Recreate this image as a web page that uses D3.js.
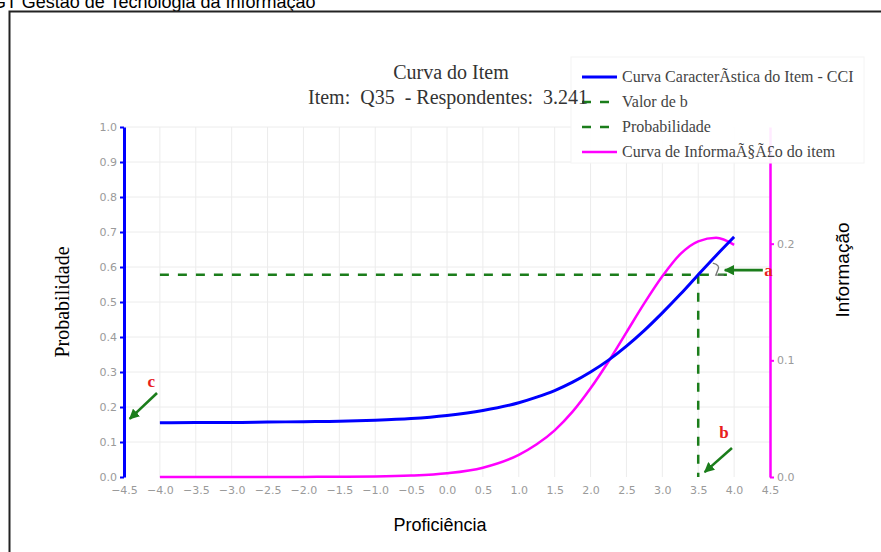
<!DOCTYPE html>
<html>
<head>
<meta charset="utf-8">
<script src="https://cdn.jsdelivr.net/npm/d3@7"></script>
<style>
  body { margin: 0; background: #fff; }
  svg { display: block; }
</style>
</head>
<body>
<svg id="chart"></svg>
<script>
// item curve values
const theta = [-4, -3.5, -3, -2.5, -2, -1.5, -1, -0.5, 0, 0.5, 1, 1.25, 1.5, 1.75, 2, 2.25, 2.5, 2.75, 3, 3.25, 3.5, 3.75, 4];
const cciValues = [0.155, 0.156, 0.156, 0.157, 0.158, 0.159, 0.162, 0.167, 0.176, 0.190, 0.212, 0.228, 0.247, 0.271, 0.300, 0.334, 0.374, 0.419, 0.469, 0.522, 0.578, 0.633, 0.686];
const infoValues = [0, 0, 0, 0, 0.0001, 0.0002, 0.0004, 0.0012, 0.0032, 0.008, 0.019, 0.028, 0.040, 0.056, 0.076, 0.099, 0.124, 0.149, 0.172, 0.191, 0.202, 0.205, 0.199];

const bValue = 3.5;
const probAtB = 0.578;
const probRange = [-4, 4];

const xTicks = d3.range(-4.5, 4.51, 0.5);
const yLeftTicks = d3.range(0, 1.01, 0.1);
const yRightTicks = [0, 0.1, 0.2];

const legendLabels = ["Curva CaracterÃ\u00adstica do Item - CCI", "Valor de b", "Probabilidade", "Curva de InformaÃ§Ã£o do item"];

// annotation arrows (data coords): tip, tail, label
const annotations = [
    {label: "a", tip: [3.87, 0.591], tail: [4.40, 0.591], text: [4.48, 0.591]},
    {label: "b", tip: [3.59, 0.014], tail: [3.97, 0.083], text: [3.86, 0.128]},
    {label: "c", tip: [-4.42, 0.166], tail: [-4.04, 0.24], text: [-4.12, 0.272]}
];

const W = 881, H = 552;
const plot = {left: 124, right: 770, top: 127, bottom: 477};

const svg = d3.select("#chart").attr("width", W).attr("height", H);

const x = d3.scaleLinear().domain([-4.5, 4.5]).range([plot.left, plot.right]);
const yL = d3.scaleLinear().domain([0, 1]).range([plot.bottom, plot.top]);
const yR = d3.scaleLinear().domain([0, 0.3]).range([plot.bottom, plot.top]);

const blue = "#0000ff", magenta = "#ff00ff", green = "#1b7d1b", red = "#e8201c";
const tickFont = "'DejaVu Sans', Verdana, sans-serif";
const serif = "'Liberation Serif', 'Times New Roman', serif";
const sans = "'Liberation Sans', Arial, sans-serif";

// page header (cut off) and frame
svg.append("text")
    .attr("x", -8).attr("y", 8)
    .style("font-family", sans).style("font-size", "18px")
    .text("GT Gestão de Tecnologia da Informação");

svg.append("path")
    .attr("d", `M9.5,${H} V11.5 H${W}`)
    .attr("fill", "none").attr("stroke", "#222").attr("stroke-width", 2);

// grid
svg.append("g").selectAll("line")
    .data(xTicks.filter(t => t > -4.4 && t < 4.4))
    .join("line")
    .attr("x1", d => x(d)).attr("x2", d => x(d))
    .attr("y1", plot.top).attr("y2", plot.bottom)
    .attr("stroke", "#ececec").attr("stroke-width", 1);

svg.append("g").selectAll("line")
    .data(yLeftTicks.filter(t => t > 0.05))
    .join("line")
    .attr("x1", plot.left).attr("x2", plot.right)
    .attr("y1", d => yL(d)).attr("y2", d => yL(d))
    .attr("stroke", "#ececec").attr("stroke-width", 1);

// axes
const fmt = d3.format(".1f");

const gx = svg.append("g")
    .attr("transform", `translate(0,${plot.bottom})`)
    .call(d3.axisBottom(x).tickValues(xTicks).tickFormat(fmt).tickSize(0).tickPadding(9));
gx.select(".domain").remove();

const gyL = svg.append("g")
    .attr("transform", `translate(${plot.left},0)`)
    .call(d3.axisLeft(yL).tickValues(yLeftTicks).tickFormat(fmt).tickSize(4).tickSizeOuter(0).tickPadding(3));
gyL.select(".domain").attr("stroke", blue).attr("stroke-width", 3);
gyL.selectAll(".tick line").attr("stroke", blue).attr("stroke-width", 2);

const gyR = svg.append("g")
    .attr("transform", `translate(${plot.right},0)`)
    .call(d3.axisRight(yR).tickValues(yRightTicks).tickFormat(fmt).tickSize(4).tickSizeOuter(0).tickPadding(3));
gyR.select(".domain").attr("stroke", magenta).attr("stroke-width", 2.5);
gyR.selectAll(".tick line").attr("stroke", magenta).attr("stroke-width", 2);

svg.selectAll(".tick text")
    .attr("fill", "#9a9a9a")
    .style("font-family", tickFont).style("font-size", "11px");

// axis titles
svg.append("text")
    .attr("transform", `translate(69,${(plot.top + plot.bottom) / 2}) rotate(-90)`)
    .attr("text-anchor", "middle")
    .style("font-family", serif).style("font-size", "20px")
    .text("Probabilidade");

svg.append("text")
    .attr("transform", `translate(849,270) rotate(-90)`)
    .attr("text-anchor", "middle")
    .style("font-family", sans).style("font-size", "19px")
    .text("Informação");

svg.append("text")
    .attr("x", 440).attr("y", 531)
    .attr("text-anchor", "middle")
    .style("font-family", sans).style("font-size", "18px")
    .text("Proficiência");

// curves
const cciData = theta.map((t, i) => ({t: t, v: cciValues[i]}));
const infoData = theta.map((t, i) => ({t: t, v: infoValues[i]}));

svg.append("path")
    .datum([{t: probRange[0], v: probAtB}, {t: probRange[1], v: probAtB}])
    .attr("fill", "none").attr("stroke", green).attr("stroke-width", 2.5)
    .attr("stroke-dasharray", "9,9")
    .attr("d", d3.line().x(d => x(d.t)).y(d => yL(d.v)));

svg.append("path")
    .datum([{t: bValue, v: probAtB}, {t: bValue, v: 0}])
    .attr("fill", "none").attr("stroke", green).attr("stroke-width", 2.5)
    .attr("stroke-dasharray", "9,9")
    .attr("d", d3.line().x(d => x(d.t)).y(d => yL(d.v)));

svg.append("path")
    .datum(infoData)
    .attr("fill", "none").attr("stroke", magenta).attr("stroke-width", 2.5)
    .attr("d", d3.line().x(d => x(d.t)).y(d => yR(d.v)).curve(d3.curveMonotoneX));

svg.append("path")
    .datum(cciData)
    .attr("fill", "none").attr("stroke", blue).attr("stroke-width", 3)
    .attr("d", d3.line().x(d => x(d.t)).y(d => yL(d.v)).curve(d3.curveMonotoneX));

// small angle mark beside the a arrow
const ax = x(annotations[0].tip[0]), ay = yL(annotations[0].tip[1]);
svg.append("path")
    .attr("d", `M${ax - 12},${ay - 7} Q${ax - 4},${ay - 5} ${ax - 7},${ay} L${ax - 9},${ay + 5} L${ax - 1},${ay + 5}`)
    .attr("fill", "none").attr("stroke", "#777").attr("stroke-width", 1.3);

// arrows
svg.append("defs").append("marker")
    .attr("id", "head")
    .attr("viewBox", "0 0 10 10")
    .attr("refX", 9).attr("refY", 5)
    .attr("markerWidth", 4).attr("markerHeight", 4)
    .attr("orient", "auto")
    .append("path").attr("d", "M0,0 L10,5 L0,10 Z").attr("fill", green);

annotations.forEach(a => {
    svg.append("line")
        .attr("x1", x(a.tail[0])).attr("y1", yL(a.tail[1]))
        .attr("x2", x(a.tip[0])).attr("y2", yL(a.tip[1]))
        .attr("stroke", green).attr("stroke-width", 2.6)
        .attr("marker-end", "url(#head)");
    svg.append("text")
        .attr("x", x(a.text[0])).attr("y", yL(a.text[1]))
        .attr("dy", "0.32em")
        .attr("text-anchor", "middle")
        .attr("fill", red)
        .style("font-family", serif).style("font-size", "17px").style("font-weight", "bold")
        .text(a.label);
});

// legend
const legend = svg.append("g");
legend.append("rect")
    .attr("x", 571).attr("y", 57).attr("width", 293).attr("height", 106)
    .attr("fill", "#fff").attr("fill-opacity", 0.92)
    .attr("stroke", "#f4f4f4");

const legendStyles = [
    {color: blue, dash: null, width: 3},
    {color: green, dash: "9,9", width: 2.5},
    {color: green, dash: "9,9", width: 2.5},
    {color: magenta, dash: null, width: 2.5}
];

legendLabels.forEach((label, i) => {
    const ly = 77 + i * 25;
    legend.append("line")
        .attr("x1", 582).attr("x2", 617)
        .attr("y1", ly).attr("y2", ly)
        .attr("stroke", legendStyles[i].color)
        .attr("stroke-width", legendStyles[i].width)
        .attr("stroke-dasharray", legendStyles[i].dash);
    legend.append("text")
        .attr("x", 622).attr("y", ly)
        .attr("dy", "0.32em")
        .attr("fill", "#444")
        .style("font-family", serif).style("font-size", "16px")
        .text(label);
});

// title, drawn over the legend box like in the original
const title = svg.append("g")
    .attr("text-anchor", "middle")
    .style("font-family", serif).style("font-size", "20px")
    .attr("fill", "#333");
title.append("text").attr("x", 451).attr("y", 79).text("Curva do Item");
title.append("text").attr("x", 448).attr("y", 104)
    .style("white-space", "pre")
    .text("Item:  Q35  - Respondentes:  3.241");
</script>
</body>
</html>
